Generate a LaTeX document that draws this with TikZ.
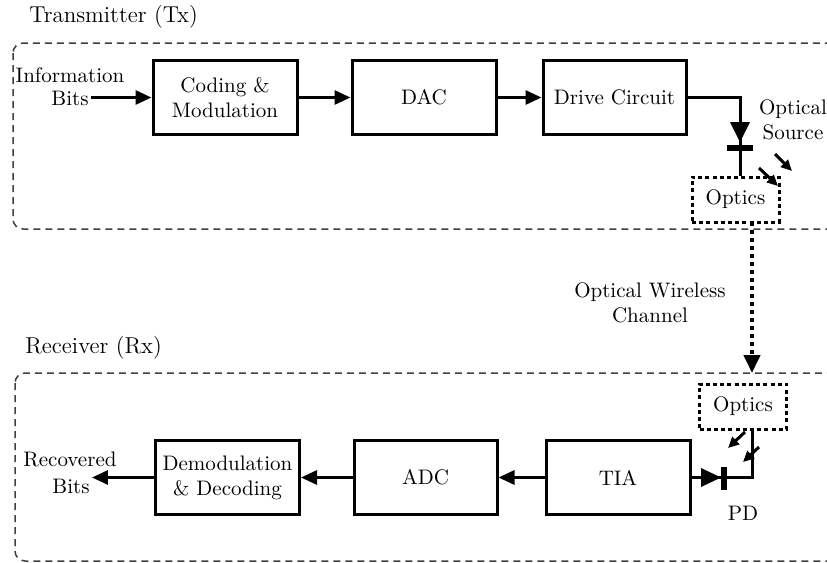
\documentclass[tikz,border=0pt]{standalone}
\usetikzlibrary{arrows.meta}
\begin{document}
\begin{tikzpicture}[x=0.5pt,y=-0.5pt,
  blk/.style={draw,line width=1.5pt,minimum width=72pt,minimum height=37pt,align=center,font=\fontsize{10.5}{12.5}\selectfont,inner sep=1pt},
  opt/.style={draw,line width=1.5pt,dash pattern=on 2pt off 1.6pt,minimum width=43.5pt,minimum height=22.5pt,font=\fontsize{10.5}{12.5}\selectfont,inner sep=1pt},
  lbl/.style={align=center,font=\fontsize{10.5}{12.5}\selectfont,inner sep=1pt},
  ttl/.style={anchor=west,font=\fontsize{11.5}{13.5}\selectfont,inner sep=0pt},
  grp/.style={draw=black!75,line width=0.75pt,dash pattern=on 3.5pt off 2.5pt,rounded corners=5pt},
  arr/.style={line width=1.5pt,-{Triangle[length=8pt,width=7pt]}},
  sarr/.style={line width=1.5pt,-{Triangle[length=5.5pt,width=5pt]}},
  wire/.style={line width=1.5pt}]
\useasboundingbox (0,0) rectangle (827,563);
% groups
\draw[grp] (13,43) rectangle (860,229);
\draw[grp] (15,373) rectangle (860,561);
\node[ttl] (txt) at (29,17) {Transmitter (Tx)};
\node[ttl] (rxt) at (25,348) {Receiver (Rx)};
% Tx chain
\node[lbl] (infoA) at (70,75) {Information};
\node[lbl] (infoB) at (70,98) {Bits};
\node[blk] (cod) at (225,97.5) {Coding \&\\Modulation};
\node[blk] (dac) at (424,97.5) {DAC};
\node[blk,minimum width=71.5pt] (drv) at (614.5,97.5) {Drive Circuit};
\draw[arr] (infoB.east |- cod) -- (cod.west);
\draw[arr] (cod) -- (dac);
\draw[arr] (dac) -- (drv);
\node[opt] (txopt) at (735.5,199.5) {Optics};
\coordinate (led) at (740,140);
\draw[wire] (drv.east) -| (led) -- (led |- txopt.north);
\fill (730,122) -- (750,122) -- (740,142) -- cycle;
\fill (727,145) rectangle (753,151);
\draw[sarr] (775,154) -- (792,171);
\draw[sarr] (759,168) -- (778,186);
\node[lbl] (src) at (793,120) {Optical\\Source};
% channel
\coordinate (chtop) at (752,222);
\coordinate (chbot) at (752,373);
\draw[line width=2pt,dash pattern=on 2pt off 2pt,-{Triangle[length=9pt,width=8pt]}] (chtop) -- (chbot);
\node[lbl] (chl) at (650,303) {Optical Wireless\\Channel};
% Rx chain
\node[opt] (rxopt) at (743,406.5) {Optics};
\node[blk] (tia) at (618,477.5) {TIA};
\node[blk,minimum width=71.5pt] (adc) at (425.5,477.5) {ADC};
\node[blk] (dem) at (227.5,477.5) {Demodulation\\\& Decoding};
\coordinate (pd) at (724,477.5);
\draw[wire] (rxopt.south -| 752,0) |- (pd);
\draw[wire] (tia.east) -- (pd);
\fill (701,468) -- (701,487) -- (721,477.5) -- cycle;
\fill (721,467) rectangle (727,490);
\draw[sarr] (745,432) -- (728,448);
\draw[sarr] (759,447) -- (743,462);
\node[lbl] (pdl) at (743,513) {PD};
\draw[arr] (tia) -- (adc);
\draw[arr] (adc) -- (dem);
\node[lbl] (recA) at (70,459) {Recovered};
\node[lbl] (recB) at (71,486) {Bits};
\draw[arr] (dem.west) -- (recB.east |- dem);
\end{tikzpicture}
\end{document}
